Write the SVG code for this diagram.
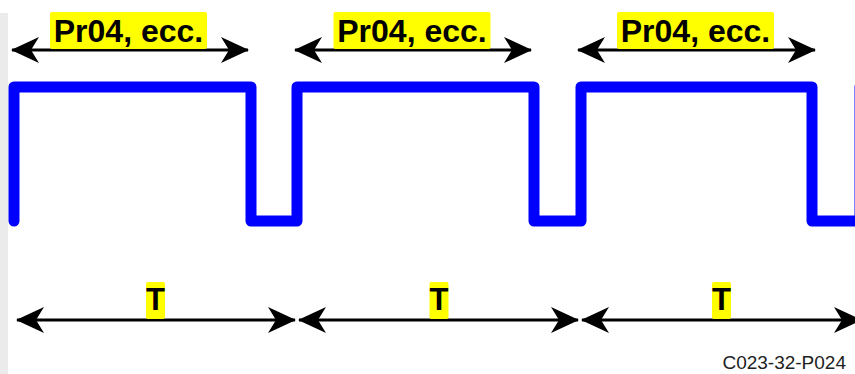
<svg xmlns="http://www.w3.org/2000/svg" width="855" height="374" viewBox="0 0 855 374">
  <style>
    .wave { fill: none; stroke: #0000ff; stroke-width: 11; stroke-linejoin: round; stroke-linecap: round; }
    .dim { stroke: #000; stroke-width: 3; fill: none; marker-start: url(#ah); marker-end: url(#ah); }
    .hl { fill: #ffff00; }
    .lbl { font-family: "Liberation Sans", Arial, sans-serif; font-weight: bold; fill: #000; text-anchor: middle; }
    .big { font-size: 32px; }
    .t { font-size: 31px; }
    .code { font-family: "Liberation Sans", Arial, sans-serif; font-size: 19px; fill: #222; text-anchor: end; }
  </style>
  <defs>
    <marker id="ah" markerUnits="userSpaceOnUse" markerWidth="28" markerHeight="26" refX="27" refY="13" orient="auto-start-reverse" viewBox="0 0 28 26">
      <path d="M0,0 L28,13 L0,26 L8,13 Z" fill="#000"/>
    </marker>
  </defs>
  <rect x="0" y="13" width="8" height="361" fill="#ebebeb"/>
  <g id="waveform">
    <path class="wave" d="M14,221 V87 H251 V221 H297 V87 H534 V221 H581 V87 H812 V221 H860 V87 H870"/>
  </g>
  <g id="connectors">
    <line class="dim" x1="12" y1="50" x2="248" y2="50"/>
    <line class="dim" x1="295" y1="50" x2="531" y2="50"/>
    <line class="dim" x1="578" y1="50" x2="815" y2="50"/>
    <line class="dim" x1="17" y1="320" x2="295" y2="320"/>
    <line class="dim" x1="299" y1="320" x2="578" y2="320"/>
    <line class="dim" x1="582" y1="320" x2="861" y2="320"/>
  </g>
  <g id="label-pr04-1">
    <rect class="hl" x="50" y="12" width="157" height="37" rx="2"/>
    <text class="lbl big" x="128.5" y="42">Pr04, ecc.</text>
  </g>
  <g id="label-pr04-2">
    <rect class="hl" x="333.5" y="12" width="157" height="37" rx="2"/>
    <text class="lbl big" x="412" y="42">Pr04, ecc.</text>
  </g>
  <g id="label-pr04-3">
    <rect class="hl" x="617" y="12" width="157" height="37" rx="2"/>
    <text class="lbl big" x="695.5" y="42">Pr04, ecc.</text>
  </g>
  <g id="label-t-1">
    <rect class="hl" x="146" y="282" width="19" height="37" rx="2"/>
    <text class="lbl t" x="155.5" y="310">T</text>
  </g>
  <g id="label-t-2">
    <rect class="hl" x="429.5" y="282" width="19" height="37" rx="2"/>
    <text class="lbl t" x="439" y="310">T</text>
  </g>
  <g id="label-t-3">
    <rect class="hl" x="712" y="282" width="19" height="37" rx="2"/>
    <text class="lbl t" x="721.5" y="310">T</text>
  </g>
  <g id="code">
    <text class="code" x="846" y="369">C023-32-P024</text>
  </g>
</svg>
